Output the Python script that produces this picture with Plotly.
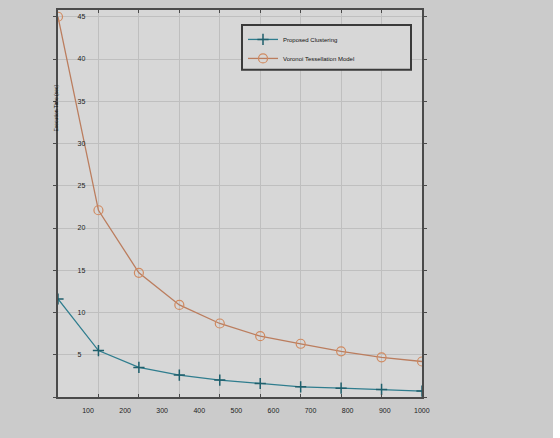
import plotly.graph_objects as go

# ---- data ----
x_vals = [100, 200, 300, 400, 500, 600, 700, 800, 900, 1000]
proposed = [11.6, 5.5, 3.5, 2.6, 2.0, 1.6, 1.2, 1.05, 0.9, 0.7]
voronoi = [45.0, 22.1, 14.7, 10.9, 8.7, 7.2, 6.3, 5.4, 4.7, 4.2]
x_tick_labels = ["100", "200", "300", "400", "500", "600", "700", "800", "900", "1000"]
y_tick_vals = [0, 5, 10, 15, 20, 25, 30, 35, 40, 45]
series_names = ["Proposed Clustering", "Voronoi Tessellation Model"]
y_title = "Execution Time (sec)"

W, H = 560, 438
L, R, T, B = 58, 138, 8, 41

OUTER = "#cbcbcb"
PLOT = "#d7d7d7"
GRID = "#bfbfbf"
AXIS = "#4a4a4a"
TEAL = "#2f7d8e"
ORANGE = "#bb7d5e"

plot_w = W - L - R
plot_h = H - T - B


def px_x(p):
    return (p - L) / plot_w


def px_y(p):
    return (H - B - p) / plot_h


fig = go.Figure()
fig.add_trace(go.Scatter(
    x=x_vals, y=proposed, name=series_names[0], mode="lines+markers",
    line=dict(color=TEAL, width=1.3),
    marker=dict(symbol="cross-thin", size=8, line=dict(color="#1f5f6c", width=1.5)),
))
fig.add_trace(go.Scatter(
    x=x_vals, y=voronoi, name=series_names[1], mode="lines+markers",
    line=dict(color=ORANGE, width=1.3),
    marker=dict(symbol="circle-open", size=9, color="#d08a60", line=dict(width=1.2)),
))
# invisible trace to host the label axis
fig.add_trace(go.Scatter(x=x_vals, y=[None] * len(x_vals), xaxis="x2",
                         showlegend=False, hoverinfo="skip", mode="markers"))

# label axis: 100 placed ~30px right of the left border, 1000 at the right border
step_px = (plot_w - 30) / 9.0
x2_left = 100 - 30 / step_px * 100

fig.update_layout(
    width=W, height=H,
    margin=dict(l=L, r=R, t=T, b=B),
    paper_bgcolor=OUTER, plot_bgcolor=PLOT,
    font=dict(family="Liberation Sans, Arial, sans-serif", color="#222"),
    showlegend=True,
    legend=dict(
        x=px_x(243), y=px_y(23), xanchor="left", yanchor="top",
        bgcolor="rgba(0,0,0,0)", borderwidth=0,
        font=dict(size=6, color="#111"), itemwidth=30, tracegroupgap=0,
    ),
    xaxis=dict(
        range=[100, 1000], tickvals=x_vals, showticklabels=False,
        showgrid=True, gridcolor=GRID, gridwidth=1, zeroline=False,
        showline=True, linecolor=AXIS, linewidth=2, mirror="ticks",
        ticks="inside", ticklen=3, tickcolor=AXIS,
    ),
    xaxis2=dict(
        overlaying="x", anchor="y", side="bottom",
        range=[x2_left, 1000.5], tickvals=x_vals, ticktext=x_tick_labels,
        showgrid=False, zeroline=False, showline=False, ticks="",
        ticklabelstandoff=8,
        tickfont=dict(size=7, color="#222"),
    ),
    yaxis=dict(
        range=[0, 45.8], tickvals=y_tick_vals, ticklabelposition="inside",
        ticklabelstandoff=18,
        showgrid=True, gridcolor=GRID, gridwidth=1, zeroline=False,
        showline=True, linecolor=AXIS, linewidth=2, mirror="ticks",
        ticks="outside", ticklen=3, tickcolor=AXIS,
        tickfont=dict(size=7, color="#222"),
    ),
    shapes=[
        # legend frame
        dict(type="rect", xref="paper", yref="paper",
             x0=px_x(242), x1=px_x(411), y0=px_y(68), y1=px_y(23),
             fillcolor=PLOT, line=dict(color="#3a3a3a", width=2), layer="above"),
        # white strip at the right edge of the picture
        dict(type="rect", xref="paper", yref="paper",
             x0=px_x(553), x1=px_x(W + 5),
             y0=px_y(H + 5), y1=px_y(-5),
             fillcolor="white", line=dict(width=0), layer="above"),
    ],
    annotations=[
        dict(text=y_title, xref="paper", yref="paper",
             x=px_x(56), y=px_y(107),
             textangle=-90, showarrow=False, font=dict(size=5, color="#111"),
             xanchor="center", yanchor="middle"),
    ],
)

fig.write_html("out.html")
